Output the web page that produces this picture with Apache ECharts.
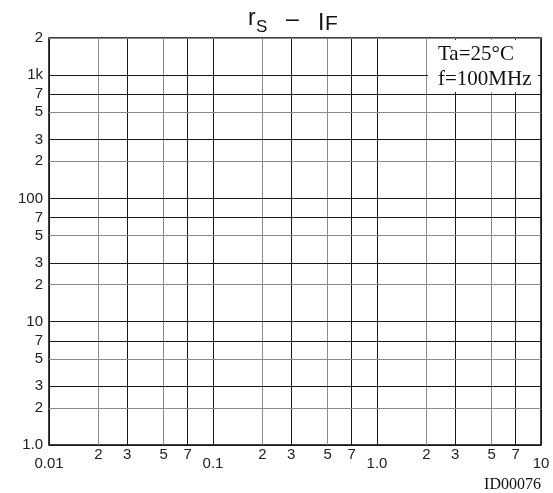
<!DOCTYPE html>
<html><head><meta charset="utf-8">
<script src="https://cdn.jsdelivr.net/npm/echarts@6/dist/echarts.min.js"></script>
<style>html,body{margin:0;padding:0;background:#fff}#c{width:553px;height:493px}</style>
</head><body><div id="c"></div>
<script>
// ---- data ----
const xRange = [0.01, 10];
const yRange = [1, 2000];
const xGridValues = [0.01,0.02,0.03,0.05,0.07,0.1,0.2,0.3,0.5,0.7,1,2,3,5,7,10];
const xTickLabels = ['0.01','2','3','5','7','0.1','2','3','5','7','1.0','2','3','5','7','10'];
const yGridValues = [1,2,3,5,7,10,20,30,50,70,100,200,300,500,700,1000,2000];
const yTickLabels = ['1.0','2','3','5','7','10','2','3','5','7','100','2','3','5','7','1k','2'];
const titleParts = ['r','S','–','I','F'];
const noteLines = ['Ta=25°C','f=100MHz'];
const figureId = 'ID00076';

// ---- styling helpers ----
const SANS = '"Liberation Sans", Arial, sans-serif';
const SERIF = '"Liberation Serif", "Times New Roman", serif';
function mantissa(v){ return Math.round(v / Math.pow(10, Math.floor(Math.log10(v) + 1e-9))); }
function isDecade(v){ return mantissa(v) === 1; }
function lineColor(v){ const m = mantissa(v); return (m === 2 || m === 5) ? '#8a8a8a' : '#1a1a1a'; }

const markData = [];
xGridValues.forEach((v, i) => {
  markData.push({
    xAxis: v,
    lineStyle: { color: lineColor(v), width: 1, type: 'solid' },
    label: { show: true, position: 'start', formatter: xTickLabels[i],
             distance: isDecade(v) ? 11 : 2,
             color: '#222', fontFamily: SANS, fontSize: 15 }
  });
});
yGridValues.forEach((v, i) => {
  markData.push({
    yAxis: v,
    lineStyle: { color: lineColor(v), width: 1, type: 'solid' },
    label: { show: true, position: 'start', formatter: yTickLabels[i],
             distance: 6, color: '#222', fontFamily: SANS, fontSize: 15 }
  });
});

const chart = echarts.init(document.getElementById('c'), null, { renderer: 'canvas' });
chart.setOption({
  animation: false,
  backgroundColor: '#fff',
  grid: { left: 49, right: 12, top: 38, bottom: 48, show: true, borderColor: '#000', borderWidth: 1.5, backgroundColor: 'transparent' },
  xAxis: { type: 'log', logBase: 10, min: xRange[0], max: xRange[1],
           axisLine: { show: false }, axisTick: { show: false }, axisLabel: { show: false }, splitLine: { show: false } },
  yAxis: { type: 'log', logBase: 10, min: yRange[0], max: yRange[1],
           axisLine: { show: false }, axisTick: { show: false }, axisLabel: { show: false }, splitLine: { show: false } },
  series: [{
    type: 'line', data: [], silent: true,
    markLine: { silent: true, symbol: ['none','none'], animation: false, data: markData }
  }],
  graphic: [
    { type: 'text', x: 248, y: 19, z: 100, style: { text: titleParts[0], font: '23px ' + SANS, fill: '#111', textVerticalAlign: 'middle', verticalAlign: 'middle' } },
    { type: 'text', x: 256, y: 27.5, z: 100, style: { text: titleParts[1], font: '17px ' + SANS, fill: '#111', textVerticalAlign: 'middle', verticalAlign: 'middle' } },
    { type: 'text', x: 286, y: 20, z: 100, style: { text: titleParts[2], font: '23px ' + SANS, fill: '#111', textVerticalAlign: 'middle', verticalAlign: 'middle' } },
    { type: 'text', x: 318, y: 24, z: 100, style: { text: titleParts[3], font: '23px ' + SANS, fill: '#111', textVerticalAlign: 'middle', verticalAlign: 'middle' } },
    { type: 'text', x: 325, y: 24.7, z: 100, style: { text: titleParts[4], font: '21px ' + SANS, fill: '#111', textVerticalAlign: 'middle', verticalAlign: 'middle' } },
    { type: 'rect', z: 100, shape: { x: 428, y: 40, width: 110, height: 52 }, style: { fill: '#fff' } },
    { type: 'text', x: 438, y: 54, z: 101, style: { text: noteLines[0], font: '21px ' + SERIF, fill: '#111', textVerticalAlign: 'middle', verticalAlign: 'middle' } },
    { type: 'text', x: 438, y: 79, z: 101, style: { text: noteLines[1], font: '21px ' + SERIF, fill: '#111', textVerticalAlign: 'middle', verticalAlign: 'middle' } },
    { type: 'text', x: 541, y: 485, z: 101, style: { text: figureId, font: '16px ' + SERIF, fill: '#111', textAlign: 'right', align: 'right', textVerticalAlign: 'middle', verticalAlign: 'middle' } }
  ]
});
</script>
</body></html>
